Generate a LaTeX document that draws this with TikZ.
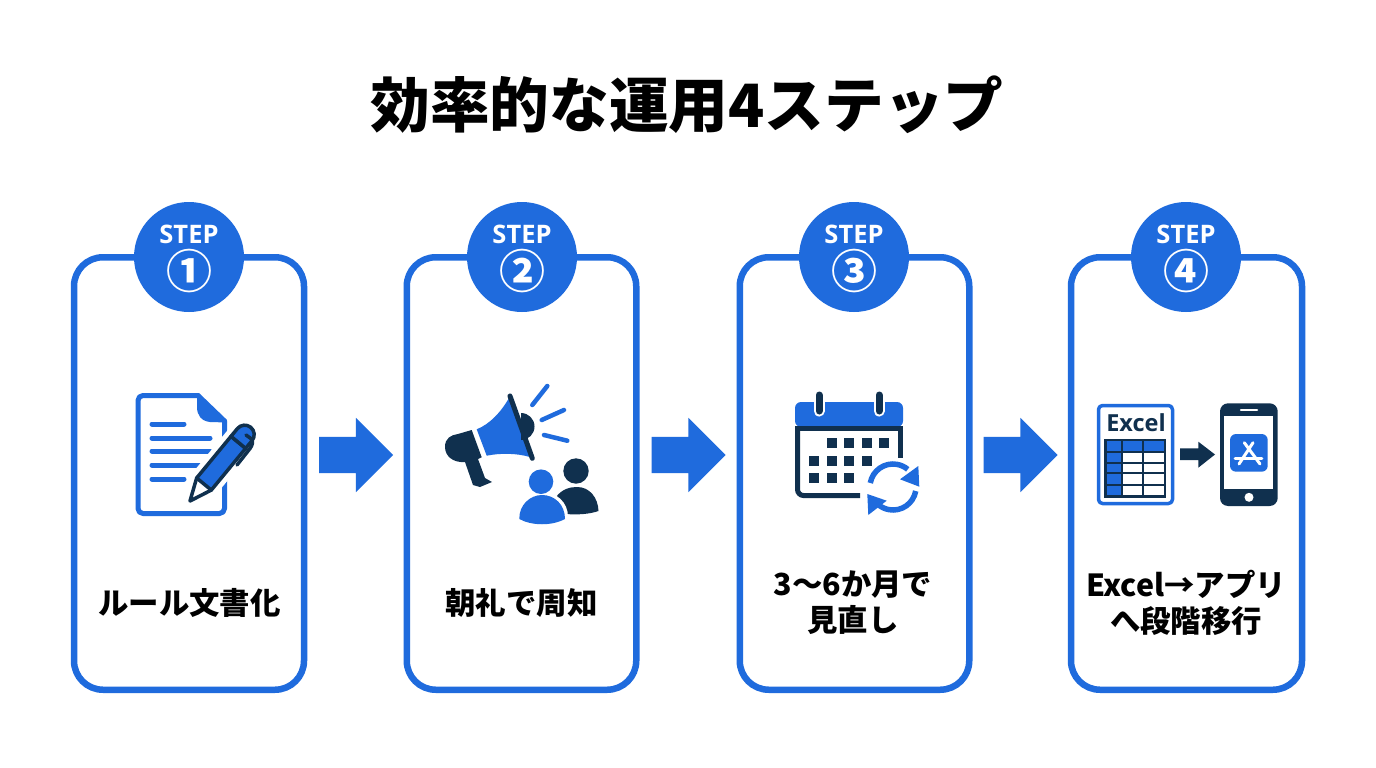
\documentclass[tikz,border=0pt]{standalone}
\usepackage{fontspec}
\usetikzlibrary{shapes.arrows}
\newfontfamily\jpfont{Noto Sans CJK JP}
\newfontfamily\latinfont{Open Sans}
\definecolor{bluemain}{HTML}{1F6BDD}
\definecolor{darkmain}{HTML}{10304E}
\newcommand{\fs}[1]{\fontsize{#1}{#1}\selectfont}
\tikzset{
  cardbox/.style={draw=bluemain,line width=6.5pt,rounded corners=29pt,fill=white,inner sep=0pt},
  badge/.style={circle,fill=bluemain,minimum size=110pt,inner sep=0pt},
  steptext/.style={text=white,inner sep=0pt,font=\latinfont\bfseries\fs{25.5}},
  numtext/.style={text=white,inner sep=0pt,font=\jpfont\bfseries\fs{46}},
  labeltext/.style={text=black,inner sep=0pt,align=center,font=\jpfont\bfseries\fontsize{30.4}{36}\selectfont},
  flowarrow/.style={single arrow,fill=bluemain,minimum width=74pt,minimum height=74pt,single arrow head extend=19pt,single arrow head indent=0pt,inner xsep=0pt,inner ysep=18pt},
  bl/.style={draw=bluemain,line cap=round,line join=round},
  dk/.style={draw=darkmain,line cap=round,line join=round},
}
\begin{document}
\begin{tikzpicture}[x=1pt,y=-1pt]
\useasboundingbox[fill=white] (0,0) rectangle (1376,768);
% title
\node[inner sep=0pt,font=\jpfont\bfseries\fs{59.7}] (title) at (687,105) {効率的な運用4ステップ};
% cards
\node[cardbox,minimum width=230pt,minimum height=432.5pt] (card1) at (189,473.5) {};
\node[cardbox,minimum width=229.5pt,minimum height=432.5pt] (card2) at (521.5,473.5) {};
\node[cardbox,minimum width=229.5pt,minimum height=432.5pt] (card3) at (854.5,473.5) {};
\node[cardbox,minimum width=231pt,minimum height=432.5pt] (card4) at (1186.5,473.5) {};
% badges
\node[badge] (badge1) at (189,257) {};
\node[badge] (badge2) at (522,257) {};
\node[badge] (badge3) at (854,257) {};
\node[badge] (badge4) at (1186,257) {};
\node[steptext] (step1) at (189,234.5) {STEP};
\node[steptext] (step2) at (522,234.5) {STEP};
\node[steptext] (step3) at (854,234.5) {STEP};
\node[steptext] (step4) at (1186,234.5) {STEP};
\node[numtext] (num1) at (189,271) {①};
\node[numtext] (num2) at (522,271) {②};
\node[numtext] (num3) at (854,271) {③};
\node[numtext] (num4) at (1186,271) {④};
% flow arrows
\node[flowarrow] (flow1) at (347,455) {};
\node[flowarrow] (flow2) at (679.5,455) {};
\node[flowarrow] (flow3) at (1011.5,455) {};
% labels
\node[labeltext] (label1) at (189.5,603) {ルール文書化};
\node[labeltext] (label2) at (521.5,603) {朝礼で周知};
\node[labeltext] (label3) at (853,603) {3〜6か月で\\見直し};
\node[labeltext] (label4) at (1186,603) {Excel→アプリ\\へ段階移行};
% ---------- icon 1: document and pen
\draw[bl,line width=5pt,rounded corners=5pt] (198,395.5) -- (138,395.5) -- (138,513.5) -- (224.5,513.5) -- (224.5,421) ;
\draw[bl,line width=5pt] (198,395.5) -- (224.5,421);
\fill[bluemain] (197,394) -- (227,422.5) -- (210,422) .. controls (201,421) and (197,415) .. (197,407) -- cycle;
\foreach \yy/\xx in {424/184,438/210,451/210,465/203,479/184}
  \draw[bl,line width=5pt] (152,\yy) -- (\xx,\yy);
\begin{scope}[shift={(190,501)},rotate=50.5]
  \fill[white] (-8,0) -- (22,-16) -- (102,-16) -- (102,16) -- (22,16) -- cycle;
  \fill[bluemain] (22,-9.5) rectangle (76,9.5);
  \fill[white] (0,0) -- (22,-9.5) -- (22,9.5) -- cycle;
  \draw[dk,line width=3.5pt,fill=none] (0,0) -- (22,-9.5) -- (76,-9.5) -- (76,9.5) -- (22,9.5) -- cycle;
  \draw[dk,line width=3.5pt] (22,-9.5) -- (22,9.5);
  \draw[dk,line width=3.5pt,fill=bluemain] (76,-9.5) -- (86,-9.5) arc[start angle=-90,end angle=90,radius=9.5] -- (76,9.5) -- cycle;
\end{scope}
\draw[dk,line width=3.5pt,rounded corners=3pt] (246,435) -- (253,440) -- (252,446) -- (237,465);
% ---------- icon 2: megaphone and people
\fill[bluemain] (476.7,429.3) .. controls (490,424) and (501,412) .. (509,398) -- (530,457) .. controls (516,453) and (500,453) .. (486.7,455.7) -- cycle;
\fill[darkmain] (521,413) arc[start angle=-90,end angle=90,radius=13.5] -- cycle;
\draw[dk,line width=5pt] (510,396) -- (532.3,458.3);
\fill[darkmain] (471.7,430) -- (481.7,457.3) -- (478,459) -- (485,478) -- (492,482) -- (480,487) -- (473,485) -- (465,462) .. controls (453,463) and (445,456) .. (445,447) .. controls (445,438) and (451,435) .. (458,434) -- cycle;
\draw[bl,line width=4.5pt] (532.3,405) -- (547.3,386);
\draw[bl,line width=4.5pt] (541.7,420) -- (564,410);
\draw[bl,line width=4.5pt] (544,435) -- (567.3,440.7);
\fill[darkmain] (576,471) circle[radius=12.7];
\fill[darkmain] (556,497) .. controls (562,489) and (570,487) .. (577,487) .. controls (590,487) and (598,498) .. (598.5,511) .. controls (590,514) and (578,515) .. (566,514) -- cycle;
\fill[white] (541,481.7) circle[radius=15];
\draw[white,line width=6pt,fill=white] (519.3,515) .. controls (519,503) and (530,495) .. (542,495) .. controls (555,495) and (565,504) .. (565,517) -- cycle;
\fill[bluemain] (541,481.7) circle[radius=12.3];
\fill[bluemain] (519.3,519) .. controls (519,505) and (530,495) .. (542,495) .. controls (555,495) and (565,505) .. (565,519) .. controls (552,526) and (532,526) .. (519.3,519) -- cycle;
% ---------- icon 3: calendar
\fill[bluemain,rounded corners=6pt] (795,427) -- (795,402) -- (903,402) -- (903,427) -- cycle;
\draw[darkmain,line width=5pt,rounded corners=6pt] (797.5,427) -- (797.5,495.5) -- (860,495.5);
\draw[darkmain,line width=5pt] (795,428) -- (903,428);
\draw[darkmain,line width=5pt] (900.5,426) -- (900.5,458);
\draw[white,line width=11pt,line cap=round] (819,395) -- (819,411);
\draw[white,line width=11pt,line cap=round] (879,395) -- (879,411);
\draw[dk,line width=7pt] (819,395) -- (819,411);
\draw[dk,line width=7pt] (879,395) -- (879,411);
\foreach \xx/\yy in {832/443,849/443,867/443,884/443,814/461,832/461,849/461,867/461,814/478,832/478,849/478}
  \fill[darkmain] (\xx-5.25,\yy-5.25) rectangle (\xx+5.25,\yy+5.25);
\draw[bluemain,line width=5.5pt] (870.3,483) arc[start angle=190,end angle=310,radius=23];
\fill[bluemain] (918.3,466) -- (919.3,486.7) -- (900,479.3) -- cycle;
\draw[bluemain,line width=5.5pt] (915.7,491) arc[start angle=10,end angle=130,radius=23];
\fill[bluemain] (867.3,494) -- (886.7,500.7) -- (868.3,515) -- cycle;
% ---------- icon 4: Excel and phone
\draw[bl,line width=3.5pt,rounded corners=4pt] (1098.5,405.5) rectangle (1172.5,503.5);
\node[inner sep=0pt,text=darkmain,font=\latinfont\bfseries\fs{23.5}] (exceltext) at (1136,423) {Excel};
\fill[bluemain] (1105.7,440) rectangle (1165,451.7);
\fill[bluemain] (1105.7,440) rectangle (1122.3,496.7);
\draw[darkmain,line width=2.5pt] (1105.7,440) rectangle (1165,496.7);
\foreach \xx in {1122.3,1143.3} \draw[darkmain,line width=2.2pt] (\xx,440) -- (\xx,496.7);
\foreach \yy in {451.7,462.7,473.3,485} \draw[darkmain,line width=2.2pt] (1105.7,\yy) -- (1165,\yy);
\fill[darkmain] (1180,448.3) -- (1198.3,448.3) -- (1198.3,441.7) -- (1215,454.5) -- (1198.3,467.7) -- (1198.3,460) -- (1180,460) -- cycle;
\fill[darkmain,rounded corners=8pt] (1220,403.3) rectangle (1277.7,506);
\fill[white] (1224.3,416) rectangle (1273.3,489.3);
\draw[white,line width=2.5pt,line cap=round] (1241,410) -- (1257,410);
\fill[white] (1249,497.3) circle[radius=4.5];
\fill[bluemain,rounded corners=6pt] (1230,434) rectangle (1267.7,471.7);
\draw[white,line width=3pt,line cap=round] (1244.3,442.7) -- (1260,464);
\draw[white,line width=3pt,line cap=round] (1253,442.7) -- (1239,464);
\draw[white,line width=2.6pt,line cap=round] (1235,458.3) -- (1262,458.3);
\end{tikzpicture}
\end{document}
